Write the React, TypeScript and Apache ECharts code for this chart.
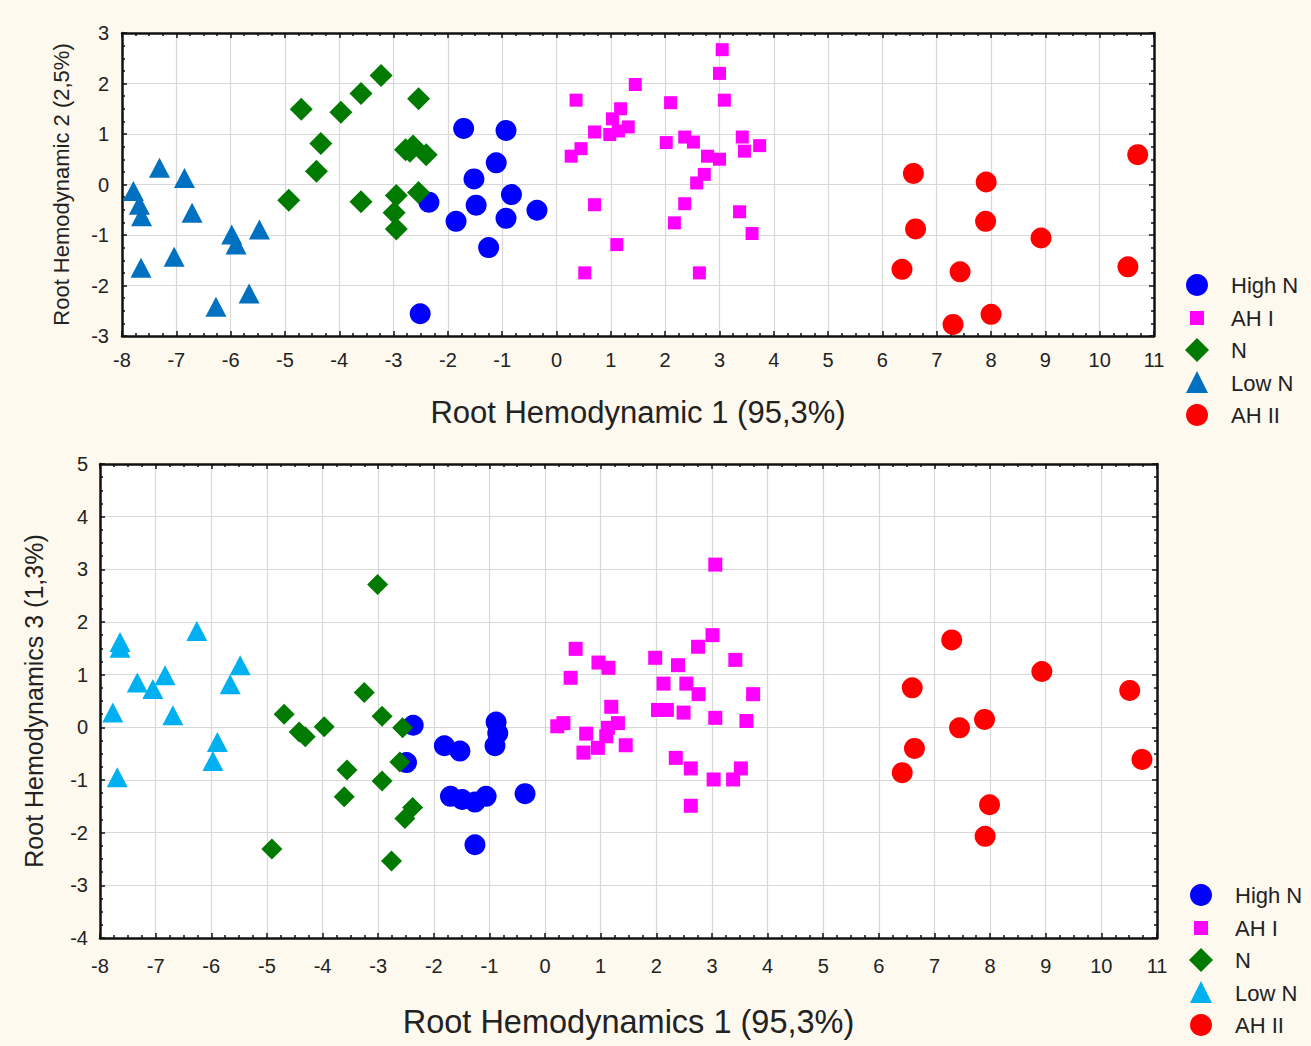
import React, { useEffect, useRef } from "react";
import * as echarts from "echarts";

// ---------- Data (top chart: Root 1 vs Root 2) ----------
const topHighN = [[-2.35,-0.35],[-2.51,-2.56],[-1.71,1.11],[-0.93,1.07],[-1.11,0.43],[-1.52,0.11],[-0.83,-0.20],[-1.48,-0.41],[-0.36,-0.51],[-1.85,-0.73],[-0.93,-0.67],[-1.25,-1.25]];
const topAHI = [[0.36,1.67],[1.45,1.98],[2.10,1.62],[3.05,2.67],[3.00,2.20],[3.09,1.67],[1.18,1.50],[1.03,1.30],[0.70,1.04],[0.98,0.99],[1.14,1.06],[1.32,1.14],[0.45,0.71],[0.27,0.56],[2.02,0.83],[2.36,0.94],[2.52,0.84],[2.78,0.56],[3.00,0.50],[3.42,0.94],[3.46,0.66],[3.74,0.77],[2.72,0.20],[2.58,0.03],[0.70,-0.40],[2.36,-0.38],[2.17,-0.76],[3.37,-0.54],[3.60,-0.97],[1.11,-1.19],[0.52,-1.75],[2.63,-1.75]];
const topN = [[-4.93,-0.31],[-4.70,1.49],[-4.34,0.81],[-4.42,0.26],[-3.97,1.43],[-3.60,1.80],[-3.23,2.16],[-2.54,1.70],[-3.60,-0.34],[-2.95,-0.22],[-2.99,-0.56],[-2.95,-0.88],[-2.78,0.69],[-2.64,0.76],[-2.70,0.66],[-2.40,0.59],[-2.54,-0.16]];
const topLowN = [[-7.79,-0.13],[-7.68,-0.40],[-7.64,-0.63],[-7.31,0.33],[-6.85,0.13],[-6.71,-0.56],[-7.65,-1.65],[-7.04,-1.43],[-5.98,-0.99],[-5.90,-1.19],[-5.47,-0.89],[-5.66,-2.16],[-6.27,-2.42]];
const topAHII = [[6.57,0.22],[7.91,0.05],[6.61,-0.88],[7.90,-0.73],[8.92,-1.06],[10.70,0.59],[6.36,-1.68],[7.43,-1.73],[10.52,-1.63],[7.30,-2.77],[8.00,-2.57]];

// ---------- Data (bottom chart: Root 1 vs Root 3) ----------
const botHighN = [[-2.37,0.04],[-2.49,-0.67],[-1.81,-0.35],[-1.53,-0.45],[-0.88,0.10],[-0.85,-0.11],[-0.90,-0.35],[-1.70,-1.31],[-1.49,-1.37],[-1.26,-1.42],[-1.06,-1.31],[-0.36,-1.26],[-1.26,-2.23]];
const botAHI = [[3.06,3.09],[3.01,1.75],[2.75,1.53],[1.98,1.32],[2.39,1.18],[3.42,1.28],[0.55,1.49],[0.96,1.23],[1.14,1.13],[0.46,0.94],[2.13,0.83],[2.54,0.83],[2.76,0.63],[3.74,0.63],[1.19,0.39],[2.03,0.33],[2.19,0.33],[2.49,0.28],[3.06,0.18],[3.62,0.12],[0.22,0.02],[0.33,0.08],[1.31,0.08],[1.13,-0.01],[1.10,-0.17],[0.74,-0.12],[0.95,-0.39],[0.69,-0.48],[1.45,-0.34],[2.35,-0.58],[2.62,-0.78],[3.52,-0.78],[3.03,-0.99],[3.38,-0.99],[2.62,-1.49]];
const botN = [[-3.01,2.71],[-3.25,0.66],[-2.93,0.21],[-2.56,-0.01],[-4.69,0.25],[-4.42,-0.09],[-4.31,-0.18],[-3.97,0.01],[-3.56,-0.81],[-3.61,-1.32],[-2.93,-1.02],[-2.61,-0.66],[-2.38,-1.52],[-2.52,-1.73],[-4.91,-2.31],[-2.76,-2.54]];
const botLowN = [[-7.64,1.62],[-7.64,1.51],[-6.26,1.83],[-7.33,0.85],[-7.05,0.73],[-6.83,0.99],[-5.48,1.18],[-5.66,0.82],[-7.77,0.28],[-6.69,0.23],[-5.89,-0.28],[-5.97,-0.64],[-7.69,-0.95]];
const botAHII = [[7.31,1.66],[8.93,1.06],[6.60,0.75],[10.51,0.70],[7.90,0.15],[7.45,-0.01],[6.64,-0.40],[6.42,-0.86],[10.73,-0.61],[7.99,-1.47],[7.91,-2.07]];

const groupNames = ["High N", "AH I", "N", "Low N", "AH II"];
const xRange = [-8, 11];
const topYRange = [-3, 3];
const botYRange = [-4, 5];
const topTitleX = "Root Hemodynamic 1 (95,3%)";
const topTitleY = "Root Hemodynamic 2 (2,5%)";
const botTitleX = "Root Hemodynamics 1 (95,3%)";
const botTitleY = "Root Hemodynamics 3 (1,3%)";

const FONT = "'Liberation Sans', Arial, sans-serif";
const BG = "#FEF9EE";
const COLORS = {
  high: "#0000FF",
  ahi: "#FF00FF",
  n: "#007A00",
  lowTop: "#0070C0",
  lowBot: "#00B0F0",
  ahii: "#FF0000",
};

function axisBase(extra: any) {
  return {
    axisLine: { show: true, onZero: false, lineStyle: { color: "#111", width: 2.5 } },
    axisTick: { show: true, inside: true, length: 5, lineStyle: { color: "#111", width: 1.5 } },
    minorTick: { show: true, splitNumber: 4, length: 3, lineStyle: { color: "#111", width: 1.5 } },
    ...extra,
  };
}

function mainX(gridIndex: number, min: number, max: number, margin: number, name: string, nameSize: number, nameGap: number) {
  return axisBase({
    type: "value", gridIndex, min, max, interval: 1, position: "bottom",
    axisLabel: { fontSize: 20, color: "#222", fontFamily: FONT, margin },
    splitLine: { show: true, lineStyle: { color: "#d8d8d8", width: 1.2 } },
    name, nameLocation: "middle", nameGap,
    nameTextStyle: { fontSize: nameSize, color: "#222", fontFamily: FONT },
  });
}
function mirrorX(gridIndex: number, min: number, max: number) {
  return axisBase({
    type: "value", gridIndex, min, max, interval: 1, position: "top",
    axisLabel: { show: false }, splitLine: { show: false },
  });
}
function mainY(gridIndex: number, min: number, max: number, margin: number, name: string, nameSize: number, nameGap: number) {
  return axisBase({
    type: "value", gridIndex, min, max, interval: 1, position: "left",
    axisLabel: { fontSize: 20, color: "#222", fontFamily: FONT, margin },
    splitLine: { show: true, lineStyle: { color: "#d8d8d8", width: 1.2 } },
    name, nameLocation: "middle", nameGap,
    nameTextStyle: { fontSize: nameSize, color: "#222", fontFamily: FONT },
  });
}
function mirrorY(gridIndex: number, min: number, max: number) {
  return axisBase({
    type: "value", gridIndex, min, max, interval: 1, position: "right",
    axisLabel: { show: false }, splitLine: { show: false },
  });
}

function scatter(name: string, data: number[][], axisIdx: number, symbol: string, size: any, color: string) {
  return {
    type: "scatter", name, data, xAxisIndex: axisIdx, yAxisIndex: axisIdx,
    symbol, symbolSize: size, itemStyle: { color, opacity: 1 }, silent: true,
  };
}

function legendGraphics(sx: number, tx: number, ys: number[], lowColor: string) {
  const els: any[] = [];
  els.push({ type: "circle", shape: { cx: sx, cy: ys[0], r: 11 }, style: { fill: COLORS.high } });
  els.push({ type: "rect", shape: { x: sx - 7, y: ys[1] - 7, width: 14, height: 14 }, style: { fill: COLORS.ahi } });
  els.push({ type: "polygon", shape: { points: [[sx, ys[2] - 12], [sx + 12, ys[2]], [sx, ys[2] + 12], [sx - 12, ys[2]]] }, style: { fill: COLORS.n } });
  els.push({ type: "polygon", shape: { points: [[sx, ys[3] - 12], [sx + 11, ys[3] + 10], [sx - 11, ys[3] + 10]] }, style: { fill: lowColor } });
  els.push({ type: "circle", shape: { cx: sx, cy: ys[4], r: 11 }, style: { fill: COLORS.ahii } });
  groupNames.forEach((g, i) => {
    els.push({
      type: "text", x: tx, y: ys[i],
      style: { text: g, fontSize: 22, fontFamily: FONT, fill: "#222", textVerticalAlign: "middle", textAlign: "left" },
    });
  });
  return els;
}

export default function App() {
  const ref = useRef<HTMLDivElement>(null);
  useEffect(() => {
    if (!ref.current) return;
    const chart = echarts.init(ref.current, undefined, { renderer: "svg" });
    const option: any = {
      animation: false,
      backgroundColor: BG,
      grid: [
        { left: 122, top: 33, width: 1032, height: 303, show: true, backgroundColor: "#ffffff", borderWidth: 0 },
        { left: 100, top: 464, width: 1057, height: 474, show: true, backgroundColor: "#ffffff", borderWidth: 0 },
      ],
      xAxis: [
        mainX(0, xRange[0], xRange[1], 14, topTitleX, 31, 61),
        mirrorX(0, xRange[0], xRange[1]),
        mainX(1, xRange[0], xRange[1], 18, botTitleX, 32.5, 67),
        mirrorX(1, xRange[0], xRange[1]),
      ],
      yAxis: [
        mainY(0, topYRange[0], topYRange[1], 13, topTitleY, 22, 50),
        mirrorY(0, topYRange[0], topYRange[1]),
        mainY(1, botYRange[0], botYRange[1], 12, botTitleY, 25, 54),
        mirrorY(1, botYRange[0], botYRange[1]),
      ],
      series: [
        scatter("High N", topHighN, 0, "circle", 21, COLORS.high),
        scatter("AH I", topAHI, 0, "rect", 13, COLORS.ahi),
        scatter("N", topN, 0, "diamond", [23, 23], COLORS.n),
        scatter("Low N", topLowN, 0, "triangle", [21, 20], COLORS.lowTop),
        scatter("AH II", topAHII, 0, "circle", 21, COLORS.ahii),
        scatter("High N", botHighN, 2, "circle", 21, COLORS.high),
        scatter("AH I", botAHI, 2, "rect", 14, COLORS.ahi),
        scatter("N", botN, 2, "diamond", [21, 21], COLORS.n),
        scatter("Low N", botLowN, 2, "triangle", [21, 20], COLORS.lowBot),
        scatter("AH II", botAHII, 2, "circle", 21, COLORS.ahii),
      ],
      graphic: [
        ...legendGraphics(1197, 1231, [285, 318, 350, 383, 415], COLORS.lowTop),
        ...legendGraphics(1201, 1235, [895, 928, 960, 993, 1025], COLORS.lowBot),
      ],
    };
    chart.setOption(option);
    return () => chart.dispose();
  }, []);
  return (
    <div
      ref={ref}
      style={{ position: "absolute", left: 0, top: 0, width: 1311, height: 1046, background: BG }}
    />
  );
}
